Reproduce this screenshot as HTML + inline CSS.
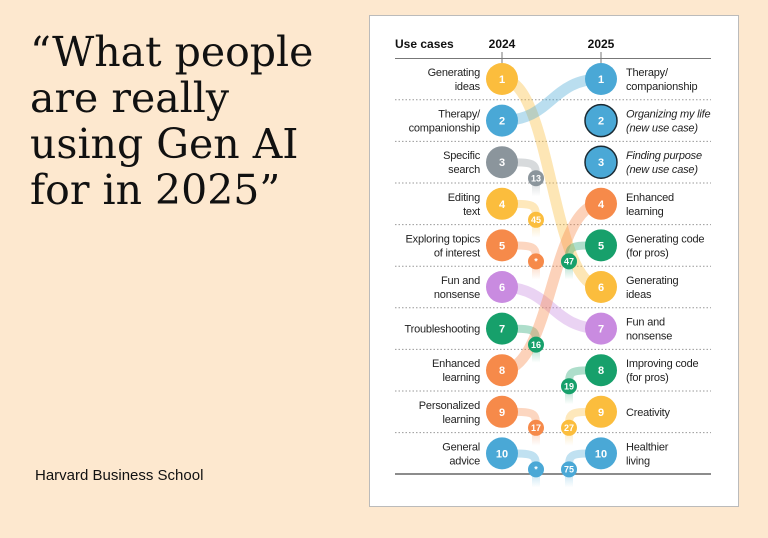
<!DOCTYPE html>
<html><head><meta charset="utf-8">
<style>
body{margin:0;width:768px;height:538px;background:#fde8cf;overflow:hidden;position:relative;font-family:"Liberation Sans",sans-serif}
#title{position:absolute;left:30px;top:29px;margin:0;font-family:"DejaVu Serif","Liberation Serif",serif;font-weight:normal;font-size:41px;line-height:46px;color:#111;letter-spacing:0px}
#src{position:absolute;left:35px;top:467px;font-size:15px;color:#111}
#card{position:absolute;left:369px;top:15px;width:370px;height:492px;background:#fff;border:1px solid #bbb;box-sizing:border-box}
svg{position:absolute;left:0;top:0}
</style></head><body>
<h1 id="title">“What people<br>are really<br>using Gen AI<br>for in 2025”</h1>
<div id="src">Harvard Business School</div>
<div id="card"></div>
<svg id="chart" width="768" height="538"></svg>
<script>
const left2024 = ["Generating|ideas","Therapy/|companionship","Specific|search","Editing|text","Exploring topics|of interest","Fun and|nonsense","Troubleshooting","Enhanced|learning","Personalized|learning","General|advice"];
const leftColors = ["y","b","g","y","o","p","gr","o","o","b"];
const rank2025Of2024 = [6,1,null,null,null,7,null,4,null,null];
const dropRank2024 = [null,null,"13","45","*",null,"16",null,"17","*"];
const right2025 = ["Therapy/|companionship","Organizing my life|(new use case)","Finding purpose|(new use case)","Enhanced|learning","Generating code|(for pros)","Generating|ideas","Fun and|nonsense","Improving code|(for pros)","Creativity","Healthier|living"];
const rightColors = ["b","new","new","o","gr","y","p","gr","y","b"];
const rightItalic = [false,true,true,false,false,false,false,false,false,false];
const prevRank2024 = [null,null,null,null,"47",null,null,"19","27","75"];

const C={y:"#fbbd3d",b:"#4aa8d6",g:"#8b959c",o:"#f68a4a",p:"#c98be0",gr:"#17a06b",new:"#4aa8d6"};
const svg=document.getElementById('chart');const NS="http://www.w3.org/2000/svg";
const X1=502,X2=601,R=16,Y0=79,DY=41.6;
const yR=r=>Y0+(r-1)*DY;
function mk(t,a,p){const e=document.createElementNS(NS,t);for(const k in a)e.setAttribute(k,a[k]);(p||svg).appendChild(e);return e;}
let t=mk('text',{x:395,y:48,'font-size':12,'font-weight':'bold',fill:'#111'});t.textContent="Use cases";

t=mk('text',{x:X1,y:48,'font-size':12,'font-weight':'bold','text-anchor':'middle',fill:'#111'});t.textContent="2024";

t=mk('text',{x:X2,y:48,'font-size':12,'font-weight':'bold','text-anchor':'middle',fill:'#111'});t.textContent="2025";

mk('line',{x1:395,x2:711,y1:58.5,y2:58.5,stroke:'#777','stroke-width':1});
mk('line',{x1:X1,x2:X1,y1:52,y2:63,stroke:'#777'});mk('line',{x1:X2,x2:X2,y1:52,y2:63,stroke:'#777'});
for(let i=1;i<10;i++){const y=yR(i)+DY/2;mk('line',{x1:395,x2:711,y1:y,y2:y,stroke:'#999','stroke-dasharray':'1.5,2','stroke-width':1});}
mk('line',{x1:395,x2:711,y1:474,y2:474,stroke:'#666','stroke-width':1.5});
const defs=mk('defs',{});
function fade(id,col){const g=mk('linearGradient',{id:id,x1:0,y1:0,x2:0,y2:1},defs);mk('stop',{offset:0,'stop-color':col,'stop-opacity':0.4},g);mk('stop',{offset:1,'stop-color':col,'stop-opacity':0},g);}
left2024.forEach((n,i)=>{const y1=yR(i+1),col=C[leftColors[i]];
 if(rank2025Of2024[i]){const y2=yR(rank2025Of2024[i]);
  const p=mk('path',{d:`M${X1},${y1} C${X1+50},${y1} ${X2-50},${y2} ${X2},${y2}`,stroke:col,'stroke-opacity':0.38,'stroke-width':11,fill:'none'});
  
 }else if(dropRank2024[i]){const xs=X1+34,ys=y1+16;fade('fl'+i,col);
  mk('path',{d:`M${X1},${y1} C${xs},${y1} ${xs},${y1} ${xs},${ys}`,stroke:col,'stroke-opacity':0.35,'stroke-width':8,fill:'none'});
  mk('rect',{x:xs-4,y:ys,width:8,height:18,fill:`url(#fl${i})`});
 }});
right2025.forEach((n,i)=>{if(prevRank2024[i]){const y2=yR(i+1),col=C[rightColors[i]],xs=X2-32,ys=y2+16;fade('fr'+i,col);
  mk('path',{d:`M${X2},${y2} C${xs},${y2} ${xs},${y2} ${xs},${ys}`,stroke:col,'stroke-opacity':0.35,'stroke-width':8,fill:'none'});
  mk('rect',{x:xs-4,y:ys,width:8,height:18,fill:`url(#fr${i})`});}});
function label(x,y,txt,anchor,it){const lines=txt.split('|');const tt=mk('text',{x:x,'text-anchor':anchor,'font-size':11,'letter-spacing':-0.2,fill:'#222','font-family':'"Liberation Sans Narrow","Liberation Sans",sans-serif','font-style':it?'italic':'normal'});
 lines.forEach((l,k)=>{const s=mk('tspan',{x:x,y:y+4+(lines.length===1?0:(k?7:-7))},tt);s.textContent=l;});return tt;}
function circ(x,y,r,col,txt,fs,stroke){const c=mk('circle',{cx:x,cy:y,r:r,fill:col});if(stroke){c.setAttribute('stroke','#1a2a33');c.setAttribute('stroke-width',1.5);}
 const tx=mk('text',{x:x,y:y+fs*0.36,'text-anchor':'middle','font-size':fs,fill:'#fff','font-weight':'bold'});tx.textContent=txt;return c;}
left2024.forEach((n,i)=>{const y=yR(i+1);const l=label(480,y,n,'end',false);
 const c=circ(X1,y,R,C[leftColors[i]],String(i+1),11);
 if(dropRank2024[i]){const d=circ(X1+34,y+16,8,C[leftColors[i]],dropRank2024[i],9);}});
right2025.forEach((n,i)=>{const y=yR(i+1);const l=label(626,y,n,'start',rightItalic[i]);
 const c=circ(X2,y,R,C[rightColors[i]],String(i+1),11,rightColors[i]==='new');
 if(prevRank2024[i]){const d=circ(X2-32,y+16,8,C[rightColors[i]],prevRank2024[i],9);}});
</script>
</body></html>
